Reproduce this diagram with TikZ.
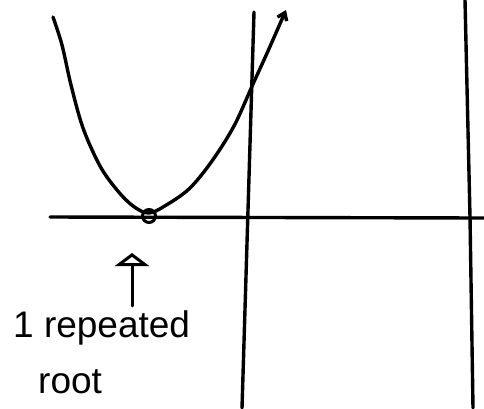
\documentclass[tikz,border=0pt]{standalone}
\usepackage{fontspec}
\setmainfont{Liberation Sans}
\usetikzlibrary{arrows.meta}

\begin{document}
\begin{tikzpicture}[
    x=1pt, y=-1pt,
    line cap=round, line join=round,
    pen/.style={line width=3.4pt},
    note/.style={font=\fontsize{37}{42}\selectfont, inner sep=0pt, anchor=base west},
    hint/.style={line width=3pt, -{Triangle[open, length=13pt, width=34pt, line width=3pt]}},
]
\useasboundingbox (0,0) rectangle (484,408);

% axes and right edge
\coordinate (xL) at (50,217);
\coordinate (xR) at (484,218);
\coordinate (yT) at (254,12);
\coordinate (yB) at (242,408);
\draw[pen] (xL) -- (xR);
\draw[pen] (yB) -- (yT);
\draw[pen] (465,0) -- (470,217) -- (473,408);

% curve touching the axis once
\draw[pen, -{Straight Barb[length=7pt, width=10pt]}] plot[smooth, tension=0.55] coordinates {
    (53,17) (62,45) (71,85) (83,128) (100,166) (117,190) (133,206) (149,213)
    (168,204) (190,188) (212,161) (234,126) (253,84) (268,51) (286,10)};

% the root
\node[draw, line width=3pt, circle, minimum width=12pt, minimum height=13pt, inner sep=0pt] (root) at (149,216) {};

% label
\node[note] (lbl1) at (13,337) {1 repeated};
\node[note] (lbl2) at (38,393) {root};
\coordinate (tip) at (132,253);
\draw[hint] (tip |- lbl1.north) ++(0,-4) -- (tip);
\end{tikzpicture}
\end{document}
